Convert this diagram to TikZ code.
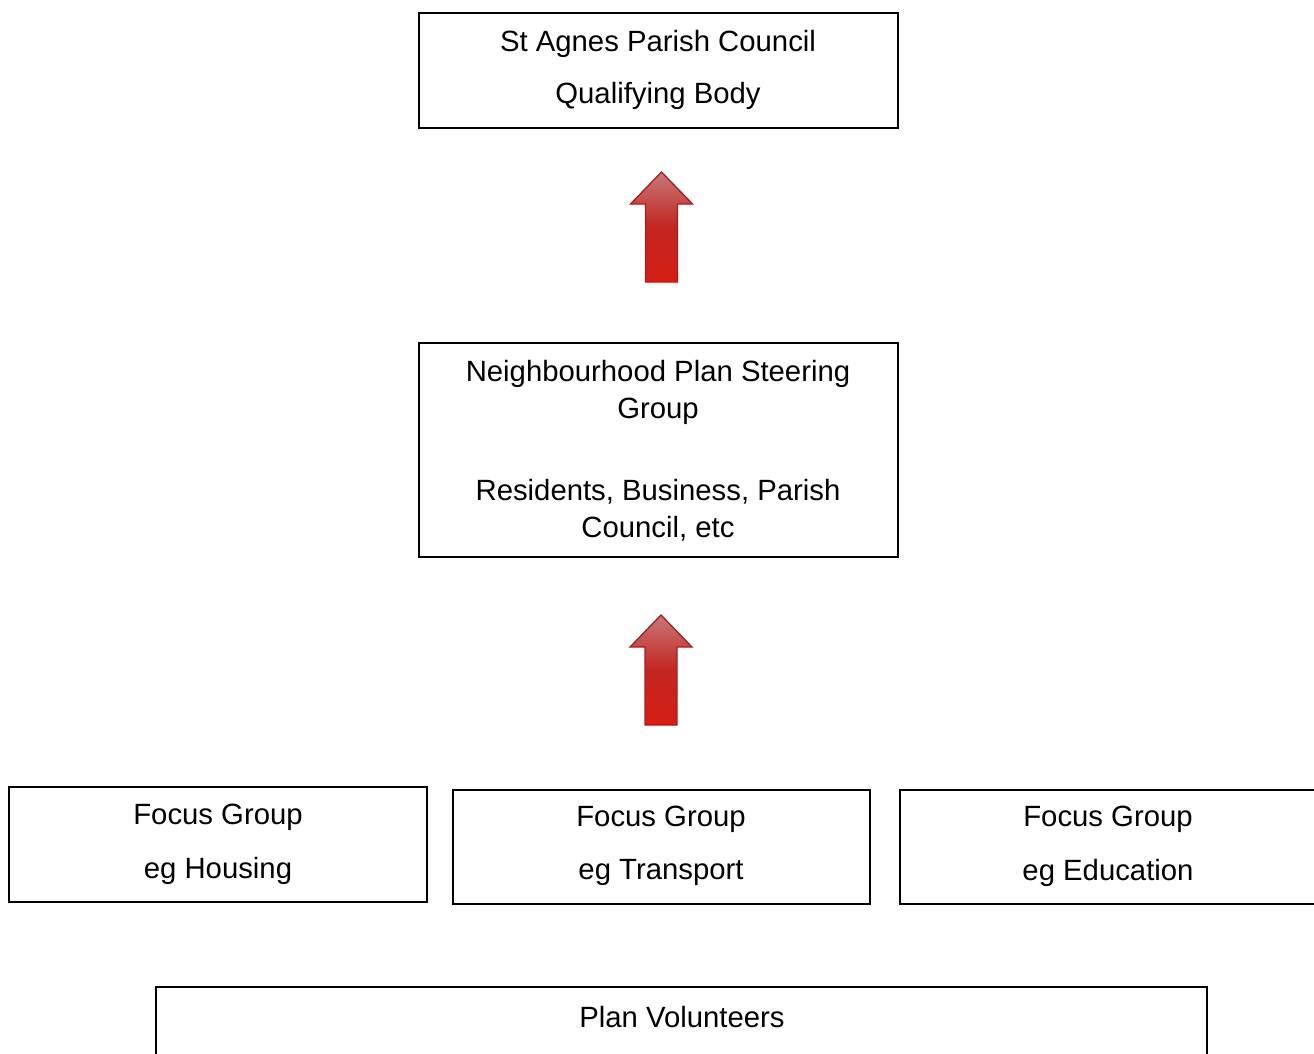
\documentclass[tikz,border=0pt]{standalone}
\usepackage{fontspec}
\setmainfont{Liberation Sans}
\begin{document}
\begin{tikzpicture}[x=1pt,y=-1pt,
  box/.style={draw=black,line width=1.7pt,fill=white,inner sep=0pt},
  txt/.style={inner sep=0pt,align=center,yshift=-2.5pt,font=\fontsize{29.3}{37}\selectfont},
  uparrow/.style={draw={rgb,255:red,165;green,30;blue,30},line width=1.3pt,
    top color={rgb,255:red,200;green,120;blue,120},
    bottom color={rgb,255:red,215;green,30;blue,20},
    middle color={rgb,255:red,195;green,38;blue,33}}]
\path[use as bounding box] (0,0) rectangle (1314,1053);
\clip (0,0) rectangle (1314,1053);
% boxes
\node[box,minimum width=479pt,minimum height=115pt] (council) at (658.5,70.5) {};
\node[txt] (councilA) at (658,41) {St Agnes Parish Council};
\node[txt] (councilB) at (658,93) {Qualifying Body};
\node[box,minimum width=479pt,minimum height=214pt] (steer) at (658.5,450) {};
\node[txt] (steerA) at (658,389.5) {Neighbourhood Plan Steering\\Group};
\node[txt] (steerB) at (658,507.5) {Residents, Business, Parish\\Council, etc};
\node[box,minimum width=418pt,minimum height=115pt] (fg1) at (218,844.5) {};
\node[txt] (fg1A) at (218,815) {Focus Group};
\node[txt] (fg1B) at (218,868) {eg Housing};
\node[box,minimum width=417pt,minimum height=114pt] (fg2) at (661.5,847) {};
\node[txt] (fg2A) at (661,817) {Focus Group};
\node[txt] (fg2B) at (661,870) {eg Transport};
\node[box,minimum width=430pt,minimum height=114pt] (fg3) at (1115,847) {};
\node[txt] (fg3A) at (1108,817) {Focus Group};
\node[txt] (fg3B) at (1108,870) {eg Education};
\node[box,minimum width=1051pt,minimum height=110pt] (vol) at (681.5,1042) {};
\node[txt] (volA) at (682,1015) {Plan Volunteers};
% arrows
\coordinate (a1) at (661.5,172);
\coordinate (a2) at (661,615);
\foreach \c in {a1,a2}{
  \path[uparrow] (\c) -- ++(31,32) -- ++(-15,0) -- ++(0,78) -- ++(-32,0)
    -- ++(0,-78) -- ++(-15,0) -- cycle;
}
\end{tikzpicture}
\end{document}
